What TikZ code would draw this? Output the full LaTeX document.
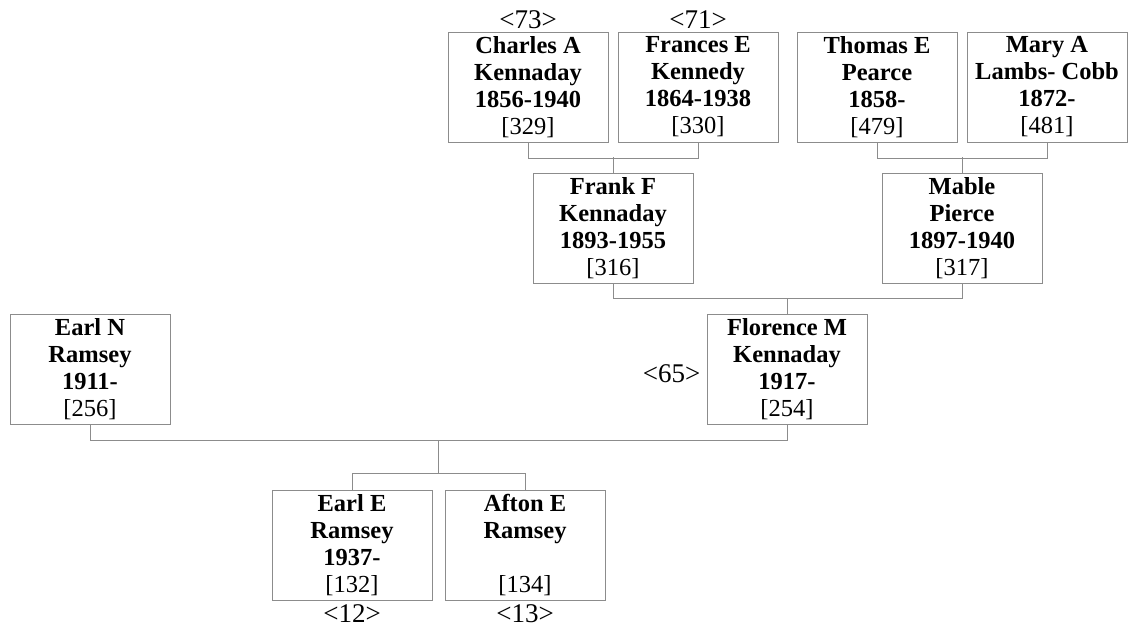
\documentclass[tikz,border=0pt]{standalone}
\usepackage{fontspec}
\setmainfont{Liberation Serif}
\usepackage{xcolor}
\usepackage{tikz}
\usetikzlibrary{calc}
\definecolor{figframe}{HTML}{8C8C8C}
\tikzset{
  person/.style={draw=figframe,line width=0.9pt,minimum width=160pt,minimum height=110pt,
    inner sep=0pt,align=center,font=\fontsize{24.5}{27}\selectfont},
  tagnum/.style={inner sep=0pt,font=\fontsize{27}{29}\selectfont},
  link/.style={figframe,line width=0.9pt}
}

\begin{document}
\begin{tikzpicture}[x=1pt,y=-1pt]
    \useasboundingbox (0,0) rectangle (1132,628);
    \node[person] (charles) at (528,87) {\textbf{Charles A}\\\textbf{Kennaday}\\\textbf{1856-1940}\\{[329]}};
    \node[person] (frances) at (698,87) {\textbf{Frances E}\\\textbf{Kennedy}\\\textbf{1864-1938}\\{[330]}};
    \node[person] (thomas) at (877,87) {\textbf{Thomas E}\\\textbf{Pearce}\\\textbf{1858-}\\{[479]}};
    \node[person] (mary) at (1047,87) {\textbf{Mary A}\\\textbf{Lambs- Cobb}\\\textbf{1872-}\\{[481]}};
    \node[person] (frank) at (613,228) {\textbf{Frank F}\\\textbf{Kennaday}\\\textbf{1893-1955}\\{[316]}};
    \node[person] (mable) at (962,228) {\textbf{Mable}\\\textbf{Pierce}\\\textbf{1897-1940}\\{[317]}};
    \node[person] (earln) at (90,369) {\textbf{Earl N}\\\textbf{Ramsey}\\\textbf{1911-}\\{[256]}};
    \node[person] (florence) at (787,369) {\textbf{Florence M}\\\textbf{Kennaday}\\\textbf{1917-}\\{[254]}};
    \node[person] (earle) at (352,545.5) {\textbf{Earl E}\\\textbf{Ramsey}\\\textbf{1937-}\\{[132]}};
    \node[person] (afton) at (525,545.5) {\textbf{Afton E}\\\textbf{Ramsey}\\\strut\\{[134]}};
    \node[tagnum,anchor=base] (charlestag) at ($(charles.north)+(0,-3)$) {<73>};
    \node[tagnum,anchor=base] (francestag) at ($(frances.north)+(0,-3)$) {<71>};
    \node[tagnum,anchor=base east] (florencetag) at ($(florence.west)+(-6,13)$) {<65>};
    \node[tagnum,anchor=base] (earletag) at ($(earle.south)+(0,22)$) {<12>};
    \node[tagnum,anchor=base] (aftontag) at ($(afton.south)+(0,22)$) {<13>};
    \draw[link] (charles.south) -- ++(0,16) -| (frances.south);
    \draw[link] (frank.north) -- ++(0,-16);
    \draw[link] (thomas.south) -- ++(0,16) -| (mary.south);
    \draw[link] (mable.north) -- ++(0,-16);
    \draw[link] (frank.south) -- ++(0,15) -| (mable.south);
    \draw[link] (florence.north) -- ++(0,-16);
    \draw[link] (earln.south) -- ++(0,16) -| (florence.south);
    \coordinate (couple) at ($(earln.south)!.5!(florence.south)+(0,16)$);
    \draw[link] (earle.north) -- ++(0,-17) -| (afton.north);
    \coordinate (kids) at ($(earle.north)!.5!(afton.north)+(0,-17)$);
    \draw[link] (couple) -- (kids);
  \end{tikzpicture}
\end{document}
